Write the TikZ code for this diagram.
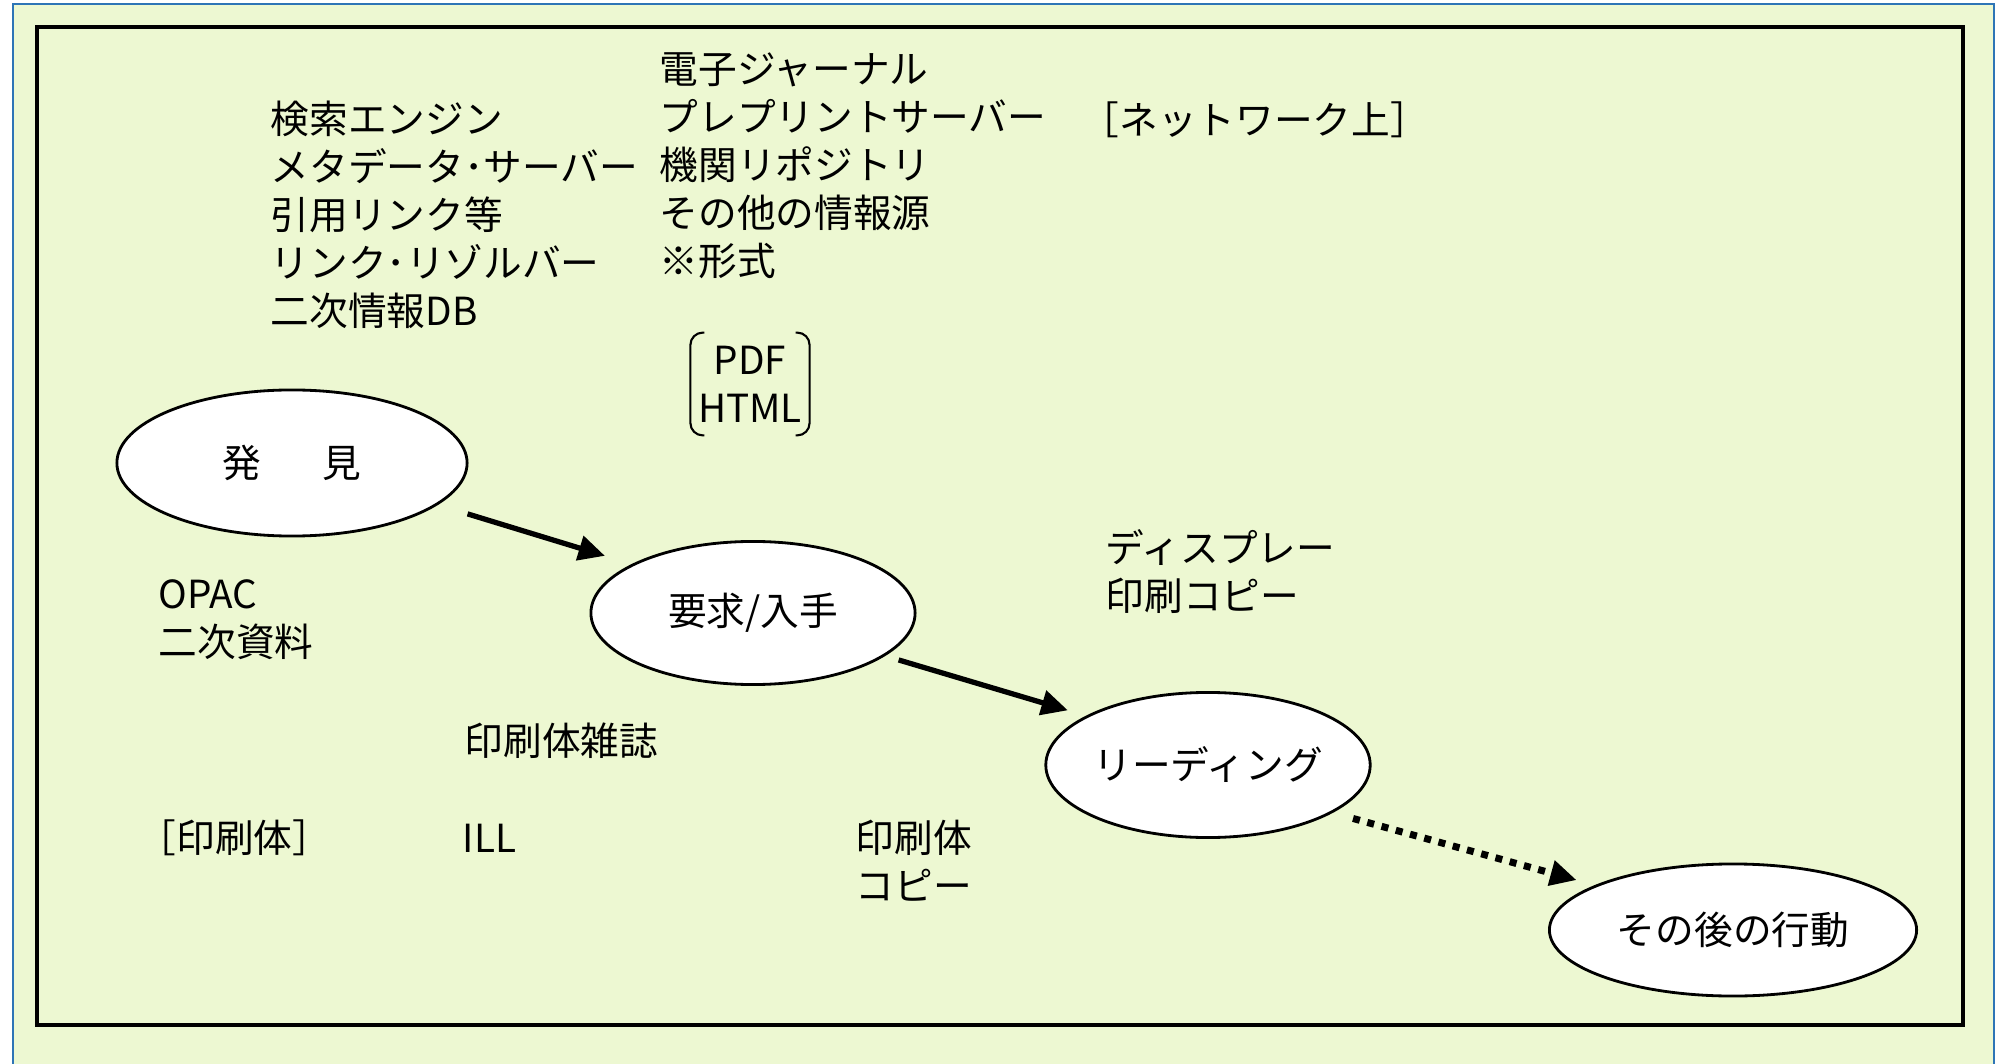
\documentclass[tikz,border=0pt]{standalone}
\usepackage{fontspec}
\setmainfont{Noto Sans CJK JP}
\usetikzlibrary{calc}
\usetikzlibrary{arrows.meta}
\usetikzlibrary{shapes.geometric}
\definecolor{panelgreen}{RGB}{237,248,210}
\definecolor{panelblue}{RGB}{46,117,182}

\begin{document}
\begin{tikzpicture}[x=0.01cm,y=-0.01cm]
  \tikzset{myedge/.style={->, line width=1.5pt, >={Triangle[length=7.5pt,width=7pt]}}};
  \tikzset{mynode/.style={ellipse, draw=black, fill=white, line width=0.8pt, inner sep=0pt, font=\fontsize{11}{13.66}\selectfont}};
  \tikzset{mytext/.style={anchor=west, align=left, inner sep=0pt, font=\fontsize{11}{13.66}\selectfont}};
  \useasboundingbox (0,0) rectangle (2000,1064);
  \fill[white] (0,0) rectangle (2000,1064);
  \begin{scope}
    \clip (0,0) rectangle (2000,1064);
    \draw[panelblue, line width=0.6pt, fill=panelgreen] (13,4) rectangle (1994,1090);
  \end{scope}
  \draw[line width=1.4pt] (37,27) rectangle (1963,1025);

  % the four stages
  \node[mynode, minimum width=3.5cm, minimum height=1.46cm] (hakken) at (292,463) {発\hspace{1.6em}見};
  \node[mynode, minimum width=3.24cm, minimum height=1.43cm] (yokyu) at (753,613) {要求/入手};
  \node[mynode, minimum width=3.24cm, minimum height=1.45cm] (reading) at (1208,765) {リーディング};
  \node[mynode, minimum width=3.67cm, minimum height=1.32cm] (after) at (1733,930) {その後の行動};

  \node[mytext] (search) at (270,215) {検索エンジン\\メタデータ･サーバー\\引用リンク等\\リンク･リゾルバー\\二次情報DB};
  \node[mytext] (ejournal) at (659,166) {電子ジャーナル\\プレプリントサーバー\\機関リポジトリ\\その他の情報源\\※形式};
  \node[mytext] (net) at (1080,120) {［ネットワーク上］};
  \node[mytext, anchor=center, align=center, inner xsep=0.07cm, inner ysep=0.125cm] (fmt) at (750,384) {PDF\\HTML};
  \node[mytext] (opac) at (158,620) {OPAC\\二次資料};
  \node[mytext] (display) at (1105,572) {ディスプレー\\印刷コピー};
  \node[mytext] (journal) at (464,741) {印刷体雑誌};
  \node[mytext] (print) at (137,838) {［印刷体］};
  \node[mytext] (ill) at (462,838) {ILL};
  \node[mytext] (copy) at (855,861) {印刷体\\コピー};

  \draw[line width=0.6pt, rounded corners=3.5pt] ([xshift=4pt]fmt.north west) -- (fmt.north west) -- (fmt.south west) -- ([xshift=4pt]fmt.south west);
  \draw[line width=0.6pt, rounded corners=3.5pt] ([xshift=-4pt]fmt.north east) -- (fmt.north east) -- (fmt.south east) -- ([xshift=-4pt]fmt.south east);

  \draw[myedge, shorten <=8.8pt, shorten >=8pt] (hakken.-16) -- (yokyu.158);
  \draw[myedge, shorten <=4pt, shorten >=5.4pt] (yokyu.-18) -- (reading.158);
  \draw[myedge, line width=2pt, dash pattern=on 2pt off 2.2pt, shorten <=6pt, shorten >=5.4pt] (reading.-21) -- (after.162);
\end{tikzpicture}
\end{document}
